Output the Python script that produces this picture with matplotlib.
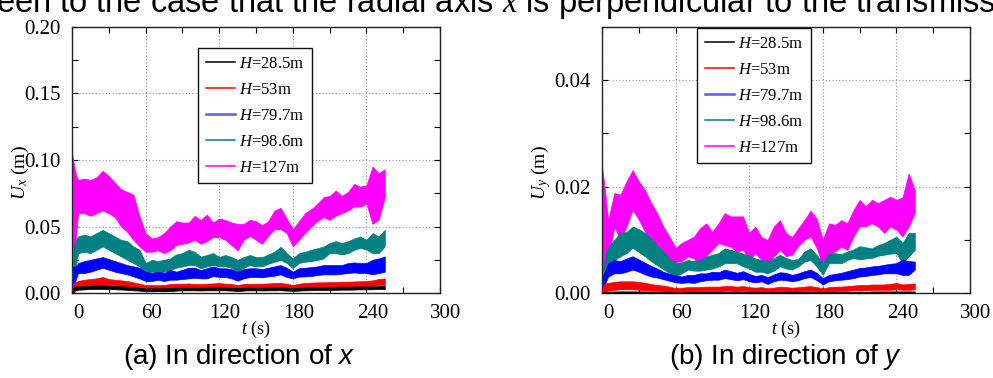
import matplotlib
matplotlib.use('Agg')
import matplotlib.pyplot as plt
from matplotlib.lines import Line2D
from matplotlib.ticker import MultipleLocator, FormatStrFormatter
from matplotlib.transforms import ScaledTranslation

plt.rcParams['font.family'] = 'Liberation Serif'
plt.rcParams['mathtext.fontset'] = 'custom'
plt.rcParams['mathtext.rm'] = 'Liberation Serif'
plt.rcParams['mathtext.it'] = 'Liberation Serif:italic'
plt.rcParams['mathtext.sf'] = 'Liberation Sans:italic'

# ---------------- data (lower / upper envelope) ----------------
time_s = [0, 1, 3, 5, 10, 15, 20, 25, 30, 35, 40, 45, 50, 55, 60, 65, 70, 75, 80, 85,
          90, 95, 100, 105, 110, 115, 120, 125, 130, 135, 140, 145, 150, 155, 160, 165,
          170, 175, 180, 185, 190, 195, 200, 205, 210, 215, 220, 225, 230, 235, 240,
          245, 250, 255]

heights = ['28.5', '53', '79.7', '98.6', '127']
colors = ['#000000', '#ff0000', '#0000ff', '#008080', '#ff00ff']
legend_colors = ['#000000', '#ff0000', '#5b5bff', '#008080', '#ff00ff']

# (a) direction x
ux_127_hi = [0.105, 0.100, 0.090, 0.085, 0.086, 0.085, 0.087, 0.092, 0.088, 0.083, 0.078, 0.076, 0.074, 0.058,
             0.045, 0.041, 0.042, 0.045, 0.050, 0.054, 0.053, 0.053, 0.058, 0.055, 0.059, 0.053, 0.056, 0.055,
             0.053, 0.052, 0.052, 0.055, 0.054, 0.051, 0.054, 0.062, 0.064, 0.056, 0.048, 0.054, 0.060, 0.063,
             0.067, 0.072, 0.073, 0.077, 0.073, 0.076, 0.082, 0.080, 0.081, 0.095, 0.090, 0.093]
ux_127_lo = [0.000, 0.010, 0.040, 0.060, 0.060, 0.058, 0.060, 0.062, 0.060, 0.057, 0.050, 0.046, 0.040, 0.035,
             0.031, 0.031, 0.032, 0.030, 0.032, 0.036, 0.037, 0.038, 0.040, 0.037, 0.039, 0.042, 0.042, 0.040,
             0.036, 0.032, 0.040, 0.043, 0.040, 0.037, 0.043, 0.048, 0.048, 0.045, 0.035, 0.040, 0.045, 0.050,
             0.054, 0.057, 0.055, 0.058, 0.060, 0.062, 0.065, 0.065, 0.067, 0.052, 0.055, 0.072]
ux_986_hi = [0.005, 0.030, 0.040, 0.0425, 0.044, 0.0425, 0.045, 0.0475, 0.045, 0.0425, 0.040, 0.039, 0.035, 0.0325,
             0.0225, 0.025, 0.024, 0.025, 0.026, 0.029, 0.030, 0.0325, 0.031, 0.0273, 0.0286, 0.030, 0.027, 0.0286,
             0.027, 0.0248, 0.027, 0.0286, 0.027, 0.027, 0.029, 0.031, 0.0348, 0.030, 0.026, 0.030, 0.031, 0.0325,
             0.0336, 0.035, 0.0375, 0.039, 0.0375, 0.039, 0.041, 0.0425, 0.040, 0.045, 0.0425, 0.0475]
ux_986_lo = [0.000, 0.000, 0.020, 0.030, 0.031, 0.030, 0.0325, 0.035, 0.0325, 0.030, 0.0275, 0.025, 0.0225, 0.020,
             0.015, 0.016, 0.015, 0.016, 0.0175, 0.019, 0.020, 0.021, 0.021, 0.0186, 0.020, 0.021, 0.020, 0.020,
             0.019, 0.016, 0.019, 0.021, 0.020, 0.020, 0.022, 0.0235, 0.0248, 0.0226, 0.0186, 0.0226, 0.0235, 0.024,
             0.0248, 0.026, 0.030, 0.030, 0.029, 0.030, 0.0325, 0.034, 0.0325, 0.030, 0.030, 0.035]
ux_797_hi = [0.003, 0.020, 0.020, 0.0225, 0.024, 0.025, 0.026, 0.027, 0.0255, 0.024, 0.0225, 0.021, 0.020, 0.019,
             0.016, 0.015, 0.016, 0.015, 0.0175, 0.016, 0.0175, 0.019, 0.019, 0.0173, 0.0186, 0.020, 0.0186, 0.0186,
             0.018, 0.016, 0.018, 0.0186, 0.0186, 0.018, 0.019, 0.020, 0.021, 0.019, 0.016, 0.0186, 0.019, 0.0195,
             0.020, 0.021, 0.021, 0.021, 0.021, 0.0225, 0.023, 0.0225, 0.0225, 0.025, 0.026, 0.0275]
ux_797_lo = [0.000, 0.000, 0.010, 0.015, 0.015, 0.016, 0.0175, 0.019, 0.0175, 0.016, 0.015, 0.014, 0.0125, 0.011,
             0.009, 0.009, 0.010, 0.009, 0.010, 0.010, 0.0105, 0.011, 0.0115, 0.011, 0.011, 0.0128, 0.012, 0.012,
             0.011, 0.0093, 0.011, 0.012, 0.012, 0.0118, 0.0125, 0.013, 0.014, 0.012, 0.011, 0.0123, 0.0125, 0.0128,
             0.0135, 0.014, 0.014, 0.014, 0.0145, 0.015, 0.0155, 0.015, 0.015, 0.014, 0.015, 0.016]
ux_53_hi = [0.002, 0.008, 0.008, 0.009, 0.010, 0.0105, 0.011, 0.012, 0.0105, 0.010, 0.0095, 0.009, 0.008, 0.007,
            0.006, 0.006, 0.0058, 0.006, 0.0068, 0.007, 0.007, 0.0072, 0.0068, 0.0068, 0.007, 0.0072, 0.0075, 0.007,
            0.0068, 0.006, 0.0068, 0.007, 0.007, 0.007, 0.0072, 0.0075, 0.0075, 0.007, 0.006, 0.007, 0.0075, 0.0078,
            0.008, 0.008, 0.0082, 0.0083, 0.0085, 0.0085, 0.0087, 0.0088, 0.009, 0.0095, 0.0105, 0.011]
ux_53_lo = [0.000, 0.000, 0.003, 0.005, 0.0055, 0.0058, 0.006, 0.006, 0.0058, 0.0055, 0.005, 0.0045, 0.004, 0.0035,
            0.003, 0.003, 0.003, 0.003, 0.0035, 0.0038, 0.004, 0.004, 0.0035, 0.0035, 0.0038, 0.004, 0.004, 0.0038,
            0.0035, 0.003, 0.0035, 0.004, 0.004, 0.0038, 0.004, 0.004, 0.0042, 0.0038, 0.003, 0.0038, 0.004, 0.0042,
            0.0045, 0.0045, 0.0046, 0.0048, 0.005, 0.005, 0.0052, 0.0053, 0.0055, 0.0055, 0.006, 0.006]
ux_285_hi = [0.001, 0.004, 0.005, 0.005, 0.0052, 0.0055, 0.0058, 0.0058, 0.0055, 0.0052, 0.005, 0.0048, 0.0045, 0.004,
             0.0035, 0.0035, 0.0035, 0.0035, 0.0038, 0.004, 0.004, 0.004, 0.004, 0.004, 0.004, 0.0042, 0.0045, 0.0042,
             0.004, 0.0038, 0.004, 0.0042, 0.004, 0.004, 0.0042, 0.0045, 0.0045, 0.004, 0.0038, 0.004, 0.0042, 0.0044,
             0.0045, 0.0045, 0.0046, 0.0047, 0.0048, 0.0048, 0.0049, 0.005, 0.005, 0.005, 0.0052, 0.0055]
ux_285_lo = [0.000, 0.000, 0.002, 0.0025, 0.0027, 0.003, 0.003, 0.003, 0.003, 0.0028, 0.0026, 0.0024, 0.002, 0.0018,
             0.0013, 0.0013, 0.0014, 0.0013, 0.0015, 0.0018, 0.002, 0.002, 0.002, 0.0019, 0.002, 0.002, 0.002, 0.002,
             0.0018, 0.0015, 0.0018, 0.002, 0.002, 0.0019, 0.002, 0.002, 0.0021, 0.0018, 0.0016, 0.0018, 0.002, 0.0021,
             0.0022, 0.0022, 0.0023, 0.0024, 0.0025, 0.0025, 0.0026, 0.0027, 0.0028, 0.0028, 0.003, 0.003]

# (b) direction y
uy_127_hi = [0.0238, 0.022, 0.018, 0.0137, 0.0188, 0.0185, 0.021, 0.0231, 0.021, 0.0194, 0.017, 0.015, 0.0125, 0.0106,
             0.0085, 0.0094, 0.010, 0.0106, 0.0122, 0.0131, 0.0115, 0.0131, 0.015, 0.0144, 0.0144, 0.0144, 0.0113, 0.0125,
             0.0105, 0.010, 0.0125, 0.0137, 0.0113, 0.0105, 0.0122, 0.0137, 0.0155, 0.014, 0.010, 0.0131, 0.0128, 0.0137,
             0.0131, 0.0156, 0.0175, 0.0163, 0.0175, 0.0169, 0.0175, 0.0181, 0.0175, 0.018, 0.0225, 0.0194]
uy_127_lo = [0.000, 0.003, 0.004, 0.0062, 0.0125, 0.010, 0.0125, 0.0156, 0.0138, 0.0115, 0.0095, 0.0078, 0.0062, 0.0044,
             0.0058, 0.006, 0.0069, 0.0065, 0.0045, 0.007, 0.0081, 0.0094, 0.009, 0.0087, 0.0078, 0.0081, 0.0062, 0.0075,
             0.0062, 0.0052, 0.0069, 0.0081, 0.0069, 0.0072, 0.0088, 0.010, 0.0106, 0.0085, 0.005, 0.0075, 0.0078, 0.0087,
             0.0081, 0.0106, 0.0125, 0.0125, 0.0131, 0.0125, 0.0113, 0.0125, 0.0119, 0.0106, 0.0125, 0.015]
uy_986_hi = [0.0005, 0.004, 0.0075, 0.0085, 0.010, 0.0113, 0.0115, 0.0125, 0.012, 0.0113, 0.0103, 0.009, 0.0078, 0.0065,
             0.0056, 0.0058, 0.0062, 0.006, 0.0062, 0.0069, 0.0072, 0.0075, 0.0084, 0.0081, 0.0078, 0.0074, 0.007, 0.0065,
             0.0062, 0.006, 0.0065, 0.0072, 0.0066, 0.0062, 0.0064, 0.0078, 0.0084, 0.0072, 0.0056, 0.0075, 0.0075, 0.0073,
             0.0078, 0.0082, 0.0088, 0.0086, 0.0084, 0.009, 0.0094, 0.010, 0.0106, 0.0094, 0.0113, 0.0113]
uy_986_lo = [0.000, 0.0005, 0.003, 0.0045, 0.0062, 0.0069, 0.0075, 0.0085, 0.0077, 0.0069, 0.006, 0.0052, 0.0045, 0.0037,
             0.0031, 0.0037, 0.0044, 0.0042, 0.0042, 0.0044, 0.0046, 0.005, 0.0056, 0.0056, 0.0056, 0.005, 0.0046, 0.004,
             0.004, 0.0037, 0.0042, 0.005, 0.0046, 0.0044, 0.005, 0.0059, 0.0062, 0.005, 0.0034, 0.0056, 0.0056, 0.0056,
             0.0062, 0.0066, 0.0063, 0.0065, 0.0066, 0.007, 0.0072, 0.0074, 0.0075, 0.0056, 0.0069, 0.0081]
uy_797_hi = [0.0005, 0.0033, 0.0045, 0.0056, 0.0062, 0.006, 0.0065, 0.0069, 0.0063, 0.0057, 0.0051, 0.0046, 0.004, 0.0036,
             0.0033, 0.0031, 0.0034, 0.0034, 0.0037, 0.0037, 0.004, 0.0039, 0.0044, 0.0041, 0.0038, 0.0041, 0.0036, 0.0032,
             0.0034, 0.003, 0.0035, 0.0039, 0.0038, 0.0034, 0.0037, 0.0041, 0.0044, 0.0038, 0.0028, 0.0034, 0.0036, 0.0038,
             0.0041, 0.0044, 0.0047, 0.0048, 0.005, 0.0051, 0.0053, 0.0055, 0.0056, 0.0063, 0.006, 0.0059]
uy_797_lo = [0.000, 0.0006, 0.002, 0.0031, 0.0037, 0.0037, 0.004, 0.0044, 0.004, 0.0035, 0.0031, 0.0029, 0.0026, 0.0023,
             0.002, 0.0019, 0.002, 0.0019, 0.0022, 0.0024, 0.0025, 0.0025, 0.0028, 0.0026, 0.0024, 0.0026, 0.0022, 0.002,
             0.0022, 0.0017, 0.0022, 0.0025, 0.0024, 0.0022, 0.0024, 0.0028, 0.003, 0.0024, 0.0016, 0.0022, 0.0024, 0.0025,
             0.0026, 0.0028, 0.0031, 0.0032, 0.0034, 0.0035, 0.0037, 0.0037, 0.0037, 0.0034, 0.0034, 0.0044]
uy_53_hi = [0.0005, 0.0015, 0.0018, 0.0019, 0.0021, 0.0022, 0.0022, 0.0022, 0.0021, 0.0019, 0.0017, 0.0015, 0.0014, 0.0012,
            0.0009, 0.001, 0.0011, 0.0011, 0.0011, 0.0012, 0.0012, 0.0012, 0.0013, 0.0013, 0.0012, 0.0013, 0.0011, 0.001,
            0.0011, 0.0009, 0.001, 0.0012, 0.0011, 0.001, 0.0011, 0.0012, 0.0013, 0.0011, 0.0009, 0.0011, 0.0012, 0.0012,
            0.0013, 0.0014, 0.0015, 0.0015, 0.0016, 0.0016, 0.0016, 0.0017, 0.0019, 0.0016, 0.0017, 0.0018]
uy_53_lo = [0.000, 0.0002, 0.0003, 0.0004, 0.0006, 0.0007, 0.0007, 0.0007, 0.0006, 0.0005, 0.0004, 0.0004, 0.0003, 0.0002,
            0.0001, 0.0002, 0.0002, 0.0002, 0.0003, 0.0003, 0.0003, 0.0003, 0.0004, 0.0004, 0.0003, 0.0004, 0.0003, 0.0002,
            0.0003, 0.0001, 0.0002, 0.0003, 0.0003, 0.0002, 0.0003, 0.0003, 0.0004, 0.0003, 0.0001, 0.0003, 0.0003, 0.0004,
            0.0004, 0.0005, 0.0005, 0.0005, 0.0006, 0.0006, 0.0006, 0.0006, 0.0007, 0.0006, 0.0006, 0.0007]
uy_285_hi = [0.0001, 0.0002, 0.0002, 0.0002, 0.0003, 0.0003, 0.0003, 0.0003, 0.0003, 0.0003, 0.0002, 0.0002, 0.0002, 0.0002,
             0.0001, 0.0001, 0.0002, 0.0002, 0.0002, 0.0002, 0.0002, 0.0002, 0.0002, 0.0002, 0.0002, 0.0002, 0.0002, 0.0002,
             0.0002, 0.0001, 0.0002, 0.0002, 0.0002, 0.0002, 0.0002, 0.0002, 0.0002, 0.0002, 0.0001, 0.0002, 0.0002, 0.0002,
             0.0002, 0.0002, 0.0002, 0.0002, 0.0003, 0.0003, 0.0003, 0.0003, 0.0003, 0.0003, 0.0003, 0.0003]
uy_285_lo = [0.0] * len(time_s)

series_x = [(ux_285_lo, ux_285_hi), (ux_53_lo, ux_53_hi), (ux_797_lo, ux_797_hi),
            (ux_986_lo, ux_986_hi), (ux_127_lo, ux_127_hi)]
series_y = [(uy_285_lo, uy_285_hi), (uy_53_lo, uy_53_hi), (uy_797_lo, uy_797_hi),
            (uy_986_lo, uy_986_hi), (uy_127_lo, uy_127_hi)]

W, H = 993, 378
fig = plt.figure(figsize=(W / 100, H / 100), dpi=100)

def fx(px):
    return px / W

def fy(py):
    return 1 - py / H

ax_a = fig.add_axes([fx(72), fy(293), fx(368), 266 / H])
ax_b = fig.add_axes([fx(602), fy(293), fx(368), 266 / H])

def draw(ax, series, ymax, ymajor, yminor, ylabel, ylabel_x, leg_xy, caption, cap_x):
    # draw back to front: 127 m first, 28.5 m last
    for i in [4, 3, 2, 1, 0]:
        lo, hi = series[i]
        ax.fill_between(time_s, lo, hi, color=colors[i], lw=0.5, zorder=2 + (4 - i))
    ax.set_xlim(0, 300)
    ax.set_ylim(0, ymax)
    ax.xaxis.set_major_locator(MultipleLocator(60))
    ax.xaxis.set_minor_locator(MultipleLocator(30))
    ax.yaxis.set_major_locator(MultipleLocator(ymajor))
    ax.yaxis.set_minor_locator(MultipleLocator(yminor))
    ax.yaxis.set_major_formatter(FormatStrFormatter('%.2f'))
    ax.set_axisbelow(True)
    ax.grid(which='major', linestyle=(0, (1, 2)), color='#9a9a9a', lw=0.8)
    for sp in ax.spines.values():
        sp.set_linewidth(1.0)
        sp.set_color('#222222')
    ax.tick_params(which='both', direction='in', top=True, right=True, length=4,
                   width=0.8, labelsize=15, pad=8)
    off = ScaledTranslation(0.06, 0, fig.dpi_scale_trans)
    for lab in ax.get_xticklabels():
        lab.set_transform(lab.get_transform() + off)

    handles = [Line2D([], [], color=legend_colors[i], lw=(1.8 if i == 2 else 1.1)) for i in range(5)]
    labels = [r'$H$=' + h + 'm' for h in heights]
    leg = ax.legend(handles, labels, loc='upper left',
                    bbox_to_anchor=(fx(leg_xy[0]), fy(leg_xy[1])), bbox_transform=fig.transFigure,
                    frameon=True, fancybox=False, edgecolor='#111111', framealpha=1,
                    fontsize=12, handlelength=1.75, handletextpad=0.25, borderpad=0.45,
                    labelspacing=0.6, borderaxespad=0)
    leg.get_frame().set_linewidth(1.0)
    leg.set_zorder(20)

    cx = (ax.get_position().x0 + ax.get_position().x1) / 2
    fig.text(cx, fy(329), r'$t$ (s)', ha='center', va='center', fontsize=13)
    fig.text(fx(ylabel_x), fy(173), ylabel, ha='center', va='center', rotation=90, fontsize=14)
    fig.text(fx(cap_x), fy(357), caption, ha='center', va='center', fontsize=20,
             family='Liberation Sans')

draw(ax_a, series_x, 0.20, 0.05, 0.025, r'$U_x$ (m)', 20, (198, 48),
     r'(a) In direction of $\mathsf{x}$', 239)
draw(ax_b, series_y, 0.05, 0.02, 0.01, r'$U_y$ (m)', 541, (697, 28),
     r'(b) In direction of $\mathsf{y}$', 786)

# line of body text at the very top, cut by the figure edge as in the reference
fig.text(fx(-4), fy(12), r'een to the case that the radial axis $x$ is perpendicular to the transmission',
         ha='left', va='baseline', fontsize=23.5, family='Liberation Sans')

fig.savefig('out.png', dpi=100)
